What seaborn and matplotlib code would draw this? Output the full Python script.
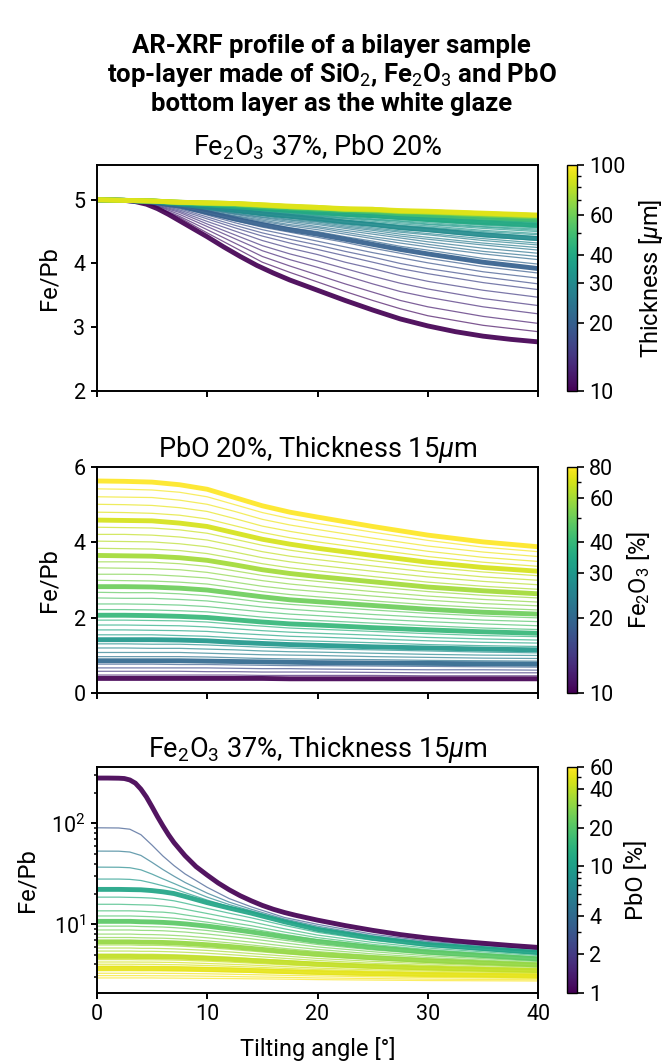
import matplotlib
matplotlib.use("Agg")
import matplotlib.pyplot as plt
from matplotlib.colors import LogNorm
from matplotlib.cm import ScalarMappable
import pandas as pd
import seaborn as sns

# ---------------------------------------------------------------------------
# Panel 1: Fe/Pb vs tilting angle for top-layer thickness 10..100 um
# The 10 um curve bends strongly and is sampled on its own, finer grid.
# ---------------------------------------------------------------------------
angle_t10 = [0, 2.5, 3.5, 4.5, 5.5, 6.5, 7.5, 8.5, 10, 11.5, 13, 14.5, 16, 17.5,
             20, 22.5, 25, 27.5, 30, 32.5, 35, 37.5, 40]
ratio_t10 = [5.00, 4.99, 4.97, 4.93, 4.86, 4.77, 4.67, 4.57, 4.42, 4.26, 4.11, 3.97,
             3.85, 3.74, 3.58, 3.42, 3.27, 3.13, 3.02, 2.93, 2.86, 2.81, 2.77]

angle_thk = [0, 2.5, 5, 7.5, 10, 12.5, 15, 17.5, 20, 22.5, 25, 27.5, 30, 35, 40]
thickness_um = list(range(11, 101))
thickness_bold = [10, 20, 30, 40, 50, 60, 70, 80, 90, 100]
ratio_thk = [
    [5.00, 4.99, 4.91, 4.72, 4.48, 4.25, 4.02, 3.86, 3.71, 3.56, 3.42, 3.29, 3.18, 3.03, 2.93],
    [5.00, 4.99, 4.92, 4.74, 4.53, 4.32, 4.11, 3.96, 3.82, 3.68, 3.55, 3.42, 3.32, 3.17, 3.06],
    [5.00, 4.99, 4.93, 4.77, 4.58, 4.39, 4.20, 4.06, 3.94, 3.81, 3.68, 3.56, 3.47, 3.32, 3.21],
    [5.00, 4.99, 4.93, 4.80, 4.62, 4.45, 4.28, 4.15, 4.04, 3.92, 3.80, 3.69, 3.60, 3.45, 3.34],
    [5.00, 4.99, 4.94, 4.82, 4.66, 4.51, 4.36, 4.24, 4.14, 4.02, 3.92, 3.81, 3.72, 3.58, 3.47],
    [5.00, 4.99, 4.95, 4.84, 4.70, 4.56, 4.43, 4.32, 4.22, 4.12, 4.02, 3.92, 3.84, 3.70, 3.59],
    [5.00, 4.99, 4.95, 4.86, 4.73, 4.60, 4.48, 4.38, 4.29, 4.19, 4.10, 4.00, 3.92, 3.79, 3.68],
    [5.00, 4.99, 4.95, 4.88, 4.76, 4.64, 4.53, 4.44, 4.35, 4.26, 4.17, 4.09, 4.01, 3.87, 3.77],
    [5.00, 4.99, 4.96, 4.89, 4.78, 4.67, 4.57, 4.49, 4.41, 4.33, 4.24, 4.16, 4.08, 3.95, 3.85],
    [5.00, 4.99, 4.96, 4.90, 4.80, 4.70, 4.61, 4.53, 4.46, 4.38, 4.30, 4.22, 4.15, 4.02, 3.92],
    [5.00, 4.99, 4.96, 4.91, 4.81, 4.72, 4.64, 4.56, 4.50, 4.42, 4.35, 4.27, 4.21, 4.08, 3.99],
    [5.00, 4.99, 4.96, 4.91, 4.82, 4.74, 4.66, 4.59, 4.53, 4.46, 4.39, 4.32, 4.26, 4.15, 4.06],
    [5.00, 4.99, 4.96, 4.91, 4.83, 4.75, 4.68, 4.61, 4.56, 4.49, 4.42, 4.36, 4.30, 4.19, 4.11],
    [5.00, 4.99, 4.97, 4.92, 4.84, 4.77, 4.70, 4.64, 4.58, 4.52, 4.46, 4.40, 4.34, 4.24, 4.16],
    [5.00, 4.99, 4.97, 4.92, 4.85, 4.78, 4.72, 4.66, 4.61, 4.55, 4.49, 4.43, 4.38, 4.29, 4.21],
    [5.00, 4.99, 4.97, 4.92, 4.86, 4.79, 4.73, 4.68, 4.63, 4.57, 4.52, 4.46, 4.41, 4.32, 4.25],
    [5.00, 4.99, 4.97, 4.93, 4.87, 4.81, 4.75, 4.69, 4.65, 4.59, 4.54, 4.49, 4.45, 4.36, 4.29],
    [5.00, 4.99, 4.97, 4.93, 4.87, 4.81, 4.76, 4.71, 4.66, 4.61, 4.56, 4.51, 4.47, 4.39, 4.32],
    [5.00, 4.99, 4.97, 4.93, 4.88, 4.83, 4.77, 4.72, 4.68, 4.63, 4.59, 4.54, 4.50, 4.42, 4.36],
    [5.00, 4.99, 4.97, 4.93, 4.88, 4.83, 4.78, 4.74, 4.70, 4.65, 4.61, 4.56, 4.53, 4.45, 4.39],
    [5.00, 4.99, 4.97, 4.94, 4.89, 4.84, 4.79, 4.75, 4.71, 4.67, 4.63, 4.59, 4.55, 4.48, 4.42],
    [5.00, 4.99, 4.97, 4.94, 4.89, 4.85, 4.80, 4.76, 4.72, 4.68, 4.64, 4.60, 4.57, 4.50, 4.45],
    [5.00, 4.99, 4.97, 4.94, 4.90, 4.86, 4.81, 4.77, 4.74, 4.70, 4.66, 4.62, 4.59, 4.52, 4.47],
    [5.00, 4.99, 4.97, 4.94, 4.90, 4.86, 4.82, 4.78, 4.75, 4.71, 4.68, 4.64, 4.61, 4.55, 4.50],
    [5.00, 4.99, 4.97, 4.94, 4.91, 4.87, 4.83, 4.79, 4.76, 4.72, 4.69, 4.66, 4.62, 4.57, 4.52],
    [5.00, 4.99, 4.97, 4.94, 4.91, 4.88, 4.84, 4.80, 4.77, 4.74, 4.70, 4.67, 4.64, 4.58, 4.54],
    [5.00, 4.99, 4.98, 4.95, 4.91, 4.88, 4.84, 4.81, 4.78, 4.75, 4.72, 4.69, 4.66, 4.60, 4.56],
    [5.00, 4.99, 4.98, 4.95, 4.92, 4.89, 4.85, 4.82, 4.79, 4.76, 4.73, 4.70, 4.67, 4.62, 4.57],
    [5.00, 4.99, 4.98, 4.95, 4.92, 4.89, 4.86, 4.82, 4.79, 4.76, 4.73, 4.71, 4.68, 4.63, 4.59],
    [5.00, 4.99, 4.98, 4.95, 4.92, 4.89, 4.86, 4.83, 4.80, 4.77, 4.75, 4.72, 4.69, 4.64, 4.60],
    [5.00, 4.99, 4.98, 4.95, 4.92, 4.90, 4.87, 4.84, 4.81, 4.78, 4.75, 4.73, 4.70, 4.65, 4.61],
    [5.00, 4.99, 4.98, 4.95, 4.93, 4.90, 4.87, 4.84, 4.81, 4.79, 4.76, 4.74, 4.71, 4.67, 4.62],
    [5.00, 4.99, 4.98, 4.95, 4.93, 4.90, 4.87, 4.85, 4.82, 4.79, 4.77, 4.74, 4.72, 4.68, 4.64],
    [5.00, 4.99, 4.98, 4.95, 4.93, 4.91, 4.88, 4.85, 4.82, 4.80, 4.77, 4.75, 4.73, 4.68, 4.65],
    [5.00, 4.99, 4.98, 4.95, 4.93, 4.91, 4.88, 4.85, 4.83, 4.80, 4.78, 4.76, 4.74, 4.69, 4.65],
    [5.00, 4.99, 4.98, 4.95, 4.93, 4.91, 4.88, 4.86, 4.83, 4.81, 4.79, 4.76, 4.74, 4.70, 4.66],
    [5.00, 4.99, 4.98, 4.95, 4.93, 4.91, 4.89, 4.86, 4.84, 4.81, 4.79, 4.77, 4.75, 4.71, 4.67],
    [5.00, 4.99, 4.98, 4.95, 4.94, 4.92, 4.89, 4.86, 4.84, 4.82, 4.80, 4.78, 4.75, 4.72, 4.68],
    [5.00, 4.99, 4.98, 4.95, 4.94, 4.92, 4.89, 4.87, 4.84, 4.82, 4.80, 4.78, 4.76, 4.72, 4.69],
    [5.00, 4.99, 4.98, 4.95, 4.94, 4.92, 4.89, 4.87, 4.85, 4.83, 4.81, 4.78, 4.76, 4.73, 4.69],
    [5.00, 4.99, 4.98, 4.95, 4.94, 4.92, 4.90, 4.87, 4.85, 4.83, 4.81, 4.79, 4.77, 4.73, 4.70],
    [5.00, 4.99, 4.98, 4.96, 4.94, 4.92, 4.90, 4.87, 4.85, 4.83, 4.81, 4.79, 4.77, 4.74, 4.70],
    [5.00, 4.99, 4.98, 4.96, 4.94, 4.92, 4.90, 4.88, 4.85, 4.83, 4.81, 4.80, 4.78, 4.74, 4.71],
    [5.00, 4.99, 4.98, 4.96, 4.94, 4.93, 4.90, 4.88, 4.86, 4.84, 4.82, 4.80, 4.78, 4.74, 4.71],
    [5.00, 4.99, 4.98, 4.96, 4.94, 4.93, 4.90, 4.88, 4.86, 4.84, 4.82, 4.80, 4.78, 4.75, 4.72],
    [5.00, 4.99, 4.98, 4.96, 4.94, 4.93, 4.90, 4.88, 4.86, 4.84, 4.82, 4.80, 4.79, 4.75, 4.72],
    [5.00, 4.99, 4.98, 4.96, 4.94, 4.93, 4.91, 4.88, 4.86, 4.84, 4.83, 4.81, 4.79, 4.76, 4.72],
    [5.00, 4.99, 4.98, 4.96, 4.94, 4.93, 4.91, 4.88, 4.86, 4.85, 4.83, 4.81, 4.79, 4.76, 4.73],
    [5.00, 4.99, 4.98, 4.96, 4.94, 4.93, 4.91, 4.89, 4.86, 4.85, 4.83, 4.81, 4.79, 4.76, 4.73],
    [5.00, 4.99, 4.98, 4.96, 4.94, 4.93, 4.91, 4.89, 4.87, 4.85, 4.83, 4.81, 4.80, 4.76, 4.73],
    [5.00, 4.99, 4.98, 4.96, 4.95, 4.93, 4.91, 4.89, 4.87, 4.85, 4.83, 4.81, 4.80, 4.77, 4.73],
    [5.00, 4.99, 4.98, 4.96, 4.95, 4.93, 4.91, 4.89, 4.87, 4.85, 4.83, 4.81, 4.80, 4.77, 4.74],
    [5.00, 4.99, 4.98, 4.96, 4.95, 4.93, 4.91, 4.89, 4.87, 4.85, 4.83, 4.81, 4.80, 4.77, 4.74],
    [5.00, 4.99, 4.98, 4.96, 4.95, 4.93, 4.91, 4.89, 4.87, 4.85, 4.83, 4.81, 4.80, 4.77, 4.74],
    [5.00, 4.99, 4.98, 4.96, 4.95, 4.93, 4.91, 4.89, 4.87, 4.85, 4.83, 4.81, 4.80, 4.77, 4.74],
    [5.00, 4.99, 4.98, 4.96, 4.95, 4.94, 4.91, 4.89, 4.87, 4.85, 4.84, 4.82, 4.81, 4.78, 4.74],
    [5.00, 4.99, 4.98, 4.96, 4.95, 4.94, 4.91, 4.89, 4.87, 4.85, 4.84, 4.82, 4.81, 4.78, 4.74],
    [5.00, 4.99, 4.98, 4.96, 4.95, 4.94, 4.91, 4.89, 4.87, 4.85, 4.84, 4.82, 4.81, 4.78, 4.74],
    [5.00, 4.99, 4.98, 4.96, 4.95, 4.94, 4.91, 4.89, 4.87, 4.85, 4.84, 4.82, 4.81, 4.78, 4.74],
    [5.00, 4.99, 4.98, 4.96, 4.95, 4.94, 4.91, 4.89, 4.87, 4.85, 4.84, 4.82, 4.81, 4.78, 4.75],
    [5.00, 4.99, 4.98, 4.96, 4.95, 4.94, 4.92, 4.89, 4.87, 4.85, 4.84, 4.82, 4.81, 4.78, 4.75],
    [5.00, 4.99, 4.98, 4.96, 4.95, 4.94, 4.92, 4.89, 4.87, 4.85, 4.84, 4.82, 4.81, 4.78, 4.75],
    [5.00, 4.99, 4.98, 4.96, 4.95, 4.94, 4.92, 4.89, 4.87, 4.85, 4.84, 4.82, 4.81, 4.78, 4.75],
    [5.00, 4.99, 4.98, 4.96, 4.95, 4.94, 4.92, 4.89, 4.87, 4.85, 4.84, 4.82, 4.81, 4.78, 4.75],
    [5.00, 4.99, 4.98, 4.96, 4.95, 4.94, 4.92, 4.89, 4.88, 4.85, 4.84, 4.82, 4.81, 4.78, 4.75],
    [5.00, 4.99, 4.98, 4.96, 4.95, 4.94, 4.92, 4.89, 4.88, 4.85, 4.84, 4.82, 4.81, 4.78, 4.75],
    [5.00, 4.99, 4.98, 4.96, 4.95, 4.94, 4.92, 4.89, 4.88, 4.85, 4.84, 4.82, 4.81, 4.78, 4.75],
    [5.00, 4.99, 4.98, 4.96, 4.95, 4.94, 4.92, 4.89, 4.88, 4.85, 4.84, 4.82, 4.81, 4.78, 4.75],
    [5.00, 4.99, 4.98, 4.96, 4.95, 4.94, 4.92, 4.89, 4.88, 4.85, 4.84, 4.82, 4.81, 4.78, 4.75],
    [5.00, 4.99, 4.98, 4.96, 4.95, 4.94, 4.92, 4.89, 4.88, 4.85, 4.85, 4.82, 4.81, 4.78, 4.75],
    [5.00, 4.99, 4.98, 4.96, 4.95, 4.94, 4.92, 4.89, 4.88, 4.85, 4.85, 4.82, 4.82, 4.78, 4.75],
    [5.00, 4.99, 4.98, 4.96, 4.95, 4.94, 4.92, 4.89, 4.88, 4.85, 4.85, 4.82, 4.82, 4.79, 4.75],
    [5.00, 4.99, 4.98, 4.96, 4.95, 4.94, 4.92, 4.89, 4.88, 4.85, 4.85, 4.82, 4.82, 4.79, 4.75],
    [5.00, 4.99, 4.98, 4.96, 4.95, 4.94, 4.92, 4.90, 4.88, 4.86, 4.85, 4.83, 4.82, 4.79, 4.76],
    [5.00, 4.99, 4.98, 4.96, 4.95, 4.94, 4.92, 4.90, 4.88, 4.86, 4.85, 4.83, 4.82, 4.79, 4.76],
    [5.00, 4.99, 4.98, 4.96, 4.95, 4.94, 4.92, 4.90, 4.88, 4.86, 4.85, 4.83, 4.82, 4.79, 4.76],
    [5.00, 4.99, 4.98, 4.96, 4.95, 4.94, 4.92, 4.90, 4.88, 4.86, 4.85, 4.83, 4.82, 4.79, 4.76],
    [5.00, 4.99, 4.98, 4.96, 4.95, 4.94, 4.92, 4.90, 4.88, 4.86, 4.85, 4.83, 4.82, 4.79, 4.76],
    [5.00, 4.99, 4.98, 4.96, 4.95, 4.94, 4.92, 4.90, 4.88, 4.86, 4.85, 4.83, 4.82, 4.79, 4.76],
    [5.00, 4.99, 4.98, 4.96, 4.95, 4.94, 4.92, 4.90, 4.88, 4.86, 4.85, 4.83, 4.82, 4.79, 4.76],
    [5.00, 4.99, 4.98, 4.96, 4.95, 4.94, 4.92, 4.90, 4.88, 4.86, 4.85, 4.83, 4.82, 4.79, 4.76],
    [5.00, 4.99, 4.98, 4.96, 4.95, 4.94, 4.92, 4.90, 4.88, 4.86, 4.85, 4.83, 4.82, 4.79, 4.76],
    [5.00, 4.99, 4.98, 4.96, 4.95, 4.94, 4.92, 4.90, 4.88, 4.86, 4.85, 4.83, 4.82, 4.79, 4.76],
    [5.00, 4.99, 4.98, 4.96, 4.95, 4.94, 4.92, 4.90, 4.88, 4.86, 4.85, 4.83, 4.82, 4.79, 4.76],
    [5.00, 4.99, 4.98, 4.96, 4.95, 4.94, 4.92, 4.90, 4.88, 4.86, 4.85, 4.83, 4.82, 4.79, 4.76],
    [5.00, 4.99, 4.98, 4.96, 4.95, 4.94, 4.92, 4.90, 4.88, 4.86, 4.85, 4.83, 4.82, 4.79, 4.76],
    [5.00, 4.99, 4.98, 4.96, 4.95, 4.94, 4.92, 4.90, 4.88, 4.86, 4.85, 4.83, 4.82, 4.79, 4.76],
    [5.00, 4.99, 4.98, 4.96, 4.95, 4.94, 4.92, 4.90, 4.88, 4.86, 4.85, 4.83, 4.82, 4.79, 4.76],
    [5.00, 4.99, 4.98, 4.96, 4.95, 4.94, 4.92, 4.90, 4.88, 4.86, 4.85, 4.83, 4.82, 4.79, 4.76],
]

# ---------------------------------------------------------------------------
# Panel 2: Fe/Pb for Fe2O3 content 10..80 %
# ---------------------------------------------------------------------------
angle_fe = [0, 2.5, 5, 7.5, 10, 12.5, 15, 17.5, 20, 25, 30, 35, 40]
fe2o3_pct = list(range(10, 81, 2))
fe2o3_bold = [10, 20, 30, 40, 50, 60, 70, 80]
ratio_fe = [
    [0.38, 0.38, 0.38, 0.38, 0.38, 0.38, 0.38, 0.37, 0.37, 0.37, 0.37, 0.37, 0.37],
    [0.47, 0.47, 0.47, 0.47, 0.47, 0.47, 0.46, 0.46, 0.46, 0.46, 0.45, 0.45, 0.45],
    [0.57, 0.57, 0.57, 0.57, 0.56, 0.56, 0.55, 0.55, 0.55, 0.54, 0.53, 0.53, 0.53],
    [0.66, 0.66, 0.66, 0.66, 0.66, 0.65, 0.64, 0.64, 0.63, 0.62, 0.61, 0.61, 0.60],
    [0.76, 0.76, 0.76, 0.75, 0.75, 0.74, 0.73, 0.72, 0.72, 0.71, 0.70, 0.69, 0.68],
    [0.85, 0.85, 0.85, 0.85, 0.84, 0.83, 0.82, 0.81, 0.80, 0.79, 0.78, 0.77, 0.76],
    [0.96, 0.96, 0.96, 0.96, 0.95, 0.93, 0.91, 0.90, 0.89, 0.88, 0.86, 0.85, 0.84],
    [1.07, 1.07, 1.07, 1.07, 1.05, 1.03, 1.01, 1.00, 0.99, 0.96, 0.94, 0.92, 0.91],
    [1.19, 1.19, 1.18, 1.18, 1.16, 1.14, 1.11, 1.09, 1.08, 1.05, 1.02, 1.00, 0.99],
    [1.30, 1.30, 1.29, 1.29, 1.27, 1.24, 1.21, 1.19, 1.17, 1.14, 1.11, 1.08, 1.06],
    [1.41, 1.41, 1.41, 1.40, 1.38, 1.34, 1.31, 1.28, 1.26, 1.22, 1.19, 1.16, 1.14],
    [1.54, 1.54, 1.54, 1.52, 1.50, 1.46, 1.42, 1.39, 1.37, 1.33, 1.28, 1.25, 1.23],
    [1.67, 1.67, 1.66, 1.65, 1.63, 1.58, 1.54, 1.50, 1.48, 1.43, 1.38, 1.34, 1.32],
    [1.80, 1.80, 1.79, 1.78, 1.75, 1.70, 1.65, 1.61, 1.58, 1.53, 1.47, 1.43, 1.40],
    [1.93, 1.93, 1.92, 1.91, 1.88, 1.82, 1.77, 1.72, 1.69, 1.63, 1.57, 1.52, 1.49],
    [2.06, 2.06, 2.05, 2.03, 2.00, 1.94, 1.88, 1.83, 1.80, 1.73, 1.67, 1.62, 1.58],
    [2.21, 2.21, 2.20, 2.18, 2.15, 2.08, 2.01, 1.96, 1.92, 1.85, 1.78, 1.72, 1.68],
    [2.36, 2.36, 2.35, 2.33, 2.29, 2.22, 2.15, 2.09, 2.05, 1.96, 1.89, 1.83, 1.78],
    [2.52, 2.51, 2.51, 2.48, 2.44, 2.36, 2.28, 2.22, 2.17, 2.08, 2.00, 1.93, 1.89],
    [2.67, 2.66, 2.66, 2.63, 2.58, 2.50, 2.41, 2.35, 2.30, 2.20, 2.11, 2.04, 1.99],
    [2.82, 2.82, 2.81, 2.78, 2.73, 2.64, 2.55, 2.47, 2.42, 2.32, 2.22, 2.14, 2.09],
    [2.99, 2.98, 2.97, 2.94, 2.89, 2.79, 2.69, 2.61, 2.55, 2.44, 2.34, 2.26, 2.20],
    [3.15, 3.15, 3.14, 3.10, 3.05, 2.94, 2.83, 2.75, 2.69, 2.57, 2.46, 2.37, 2.31],
    [3.32, 3.31, 3.30, 3.27, 3.20, 3.09, 2.98, 2.89, 2.82, 2.69, 2.57, 2.48, 2.41],
    [3.48, 3.48, 3.47, 3.43, 3.36, 3.24, 3.12, 3.03, 2.96, 2.82, 2.69, 2.59, 2.52],
    [3.65, 3.64, 3.63, 3.59, 3.52, 3.40, 3.27, 3.17, 3.09, 2.95, 2.81, 2.71, 2.63],
    [3.84, 3.83, 3.82, 3.78, 3.70, 3.57, 3.43, 3.32, 3.24, 3.09, 2.94, 2.83, 2.75],
    [4.03, 4.02, 4.01, 3.96, 3.88, 3.74, 3.59, 3.48, 3.39, 3.23, 3.08, 2.96, 2.87],
    [4.21, 4.21, 4.19, 4.14, 4.06, 3.91, 3.75, 3.63, 3.54, 3.37, 3.21, 3.08, 2.99],
    [4.40, 4.39, 4.38, 4.33, 4.24, 4.08, 3.92, 3.79, 3.69, 3.51, 3.34, 3.21, 3.11],
    [4.59, 4.58, 4.57, 4.51, 4.42, 4.25, 4.08, 3.95, 3.84, 3.65, 3.47, 3.33, 3.23],
    [4.80, 4.79, 4.77, 4.72, 4.62, 4.44, 4.26, 4.12, 4.01, 3.81, 3.62, 3.47, 3.36],
    [5.01, 5.00, 4.98, 4.92, 4.82, 4.63, 4.43, 4.29, 4.17, 3.96, 3.76, 3.60, 3.49],
    [5.21, 5.20, 5.19, 5.12, 5.01, 4.82, 4.61, 4.46, 4.34, 4.11, 3.90, 3.74, 3.62],
    [5.42, 5.41, 5.39, 5.33, 5.21, 5.00, 4.79, 4.63, 4.50, 4.27, 4.05, 3.87, 3.75],
    [5.63, 5.62, 5.60, 5.53, 5.41, 5.19, 4.97, 4.80, 4.67, 4.42, 4.19, 4.01, 3.88],
]

# ---------------------------------------------------------------------------
# Panel 3: Fe/Pb for PbO content 1..59 % (log axis)
# The 1 % curve has a sharp knee and is sampled on its own, finer grid.
# ---------------------------------------------------------------------------
angle_pbo1 = [0, 1, 2, 2.5, 3, 3.5, 4, 4.5, 5, 5.5, 6, 6.5, 7, 8, 9, 10, 11, 12,
              13, 14, 15, 16, 17, 18, 20, 22.5, 25, 27.5, 30, 32.5, 35, 37.5, 40]
ratio_pbo1 = [282, 282, 281, 279, 270, 251, 219, 183, 147, 117, 94.4, 77.3, 64.6,
              47.9, 37.3, 30.8, 25.7, 22.0, 19.2, 17.1, 15.4, 14.1, 13.1, 12.3,
              11.0, 9.72, 8.71, 7.91, 7.31, 6.85, 6.49, 6.17, 5.90]

angle_pb = [0, 2, 3, 4, 5, 6, 7, 8, 10, 12, 14, 17, 20, 25, 30, 40]
pbo_pct = list(range(3, 60, 2))
pbo_bold = [1, 11, 21, 31, 41, 51]
ratio_pb = [
    [90.6, 90.2, 87.7, 77.4, 61.1, 47.5, 38.2, 31.6, 23.3, 18.0, 14.9, 11.7, 10.0, 7.98, 6.78, 5.60],
    [53.2, 53.1, 52.1, 48.2, 41.2, 34.9, 30.0, 26.0, 20.4, 16.6, 14.1, 11.3, 9.59, 7.71, 6.59, 5.46],
    [36.9, 36.8, 36.4, 34.7, 31.5, 28.2, 25.4, 22.8, 18.6, 15.7, 13.6, 11.0, 9.29, 7.53, 6.47, 5.36],
    [28.1, 28.1, 27.9, 27.2, 25.7, 24.1, 22.5, 20.6, 17.4, 15.0, 13.2, 10.8, 9.08, 7.41, 6.37, 5.30],
    [22.2, 22.2, 22.1, 22.0, 21.6, 21.0, 20.2, 18.9, 16.4, 14.5, 12.9, 10.6, 8.90, 7.30, 6.30, 5.24],
    [18.6, 18.6, 18.5, 18.4, 18.2, 17.7, 17.1, 16.2, 14.4, 12.9, 11.6, 9.75, 8.32, 6.93, 6.04, 5.06],
    [15.8, 15.8, 15.7, 15.6, 15.5, 15.2, 14.8, 14.1, 12.8, 11.6, 10.6, 9.02, 7.82, 6.61, 5.81, 4.90],
    [13.6, 13.6, 13.6, 13.5, 13.3, 13.2, 12.9, 12.4, 11.5, 10.5, 9.68, 8.39, 7.38, 6.32, 5.61, 4.75],
    [12.1, 12.1, 12.1, 12.0, 11.9, 11.7, 11.5, 11.2, 10.5, 9.75, 9.04, 7.94, 7.06, 6.12, 5.46, 4.65],
    [10.7, 10.7, 10.7, 10.6, 10.55, 10.45, 10.3, 10.1, 9.60, 9.00, 8.40, 7.50, 6.75, 5.90, 5.30, 4.53],
    [9.59, 9.59, 9.59, 9.51, 9.46, 9.40, 9.27, 9.10, 8.69, 8.20, 7.69, 6.95, 6.31, 5.58, 5.06, 4.39],
    [8.79, 8.79, 8.79, 8.71, 8.69, 8.63, 8.51, 8.38, 8.02, 7.60, 7.18, 6.53, 5.97, 5.35, 4.88, 4.28],
    [8.00, 8.00, 8.00, 7.93, 7.91, 7.85, 7.76, 7.66, 7.36, 7.01, 6.65, 6.10, 5.64, 5.09, 4.69, 4.16],
    [7.40, 7.40, 7.40, 7.35, 7.31, 7.28, 7.21, 7.11, 6.85, 6.56, 6.24, 5.77, 5.37, 4.90, 4.54, 4.06],
    [6.70, 6.70, 6.70, 6.65, 6.64, 6.61, 6.55, 6.47, 6.27, 6.03, 5.77, 5.38, 5.05, 4.66, 4.36, 3.95],
    [6.24, 6.24, 6.24, 6.19, 6.19, 6.17, 6.11, 6.04, 5.86, 5.66, 5.43, 5.11, 4.81, 4.47, 4.20, 3.85],
    [5.82, 5.82, 5.82, 5.78, 5.78, 5.75, 5.71, 5.65, 5.51, 5.33, 5.13, 4.85, 4.59, 4.29, 4.06, 3.74],
    [5.43, 5.43, 5.43, 5.40, 5.40, 5.37, 5.33, 5.28, 5.16, 5.01, 4.84, 4.60, 4.38, 4.11, 3.92, 3.64],
    [5.07, 5.07, 5.07, 5.05, 5.05, 5.02, 4.99, 4.95, 4.84, 4.72, 4.58, 4.38, 4.18, 3.95, 3.78, 3.54],
    [4.80, 4.80, 4.80, 4.78, 4.78, 4.75, 4.73, 4.70, 4.60, 4.50, 4.38, 4.20, 4.03, 3.83, 3.68, 3.47],
    [4.47, 4.47, 4.47, 4.45, 4.45, 4.44, 4.42, 4.39, 4.31, 4.22, 4.12, 3.97, 3.83, 3.66, 3.54, 3.36],
    [4.23, 4.23, 4.23, 4.22, 4.22, 4.20, 4.19, 4.16, 4.09, 4.02, 3.94, 3.81, 3.68, 3.54, 3.44, 3.27],
    [4.02, 4.02, 4.02, 4.01, 4.01, 3.99, 3.98, 3.96, 3.90, 3.84, 3.77, 3.66, 3.56, 3.43, 3.34, 3.20],
    [3.84, 3.84, 3.84, 3.83, 3.83, 3.82, 3.81, 3.78, 3.74, 3.69, 3.63, 3.53, 3.44, 3.33, 3.26, 3.13],
    [3.66, 3.66, 3.66, 3.65, 3.65, 3.64, 3.63, 3.61, 3.57, 3.53, 3.48, 3.40, 3.33, 3.24, 3.17, 3.07],
    [3.47, 3.47, 3.47, 3.46, 3.46, 3.45, 3.44, 3.44, 3.40, 3.37, 3.33, 3.27, 3.21, 3.13, 3.08, 3.00],
    [3.27, 3.27, 3.27, 3.27, 3.27, 3.26, 3.26, 3.25, 3.23, 3.20, 3.17, 3.12, 3.08, 3.02, 2.97, 2.91],
    [3.10, 3.10, 3.10, 3.10, 3.09, 3.09, 3.08, 3.08, 3.06, 3.04, 3.01, 2.98, 2.94, 2.90, 2.86, 2.82],
    [2.94, 2.94, 2.94, 2.94, 2.94, 2.93, 2.93, 2.92, 2.91, 2.90, 2.88, 2.86, 2.83, 2.80, 2.77, 2.74],
]

# ---------------------------------------------------------------------------
# Style
# ---------------------------------------------------------------------------
sns.set_theme(style="ticks")
plt.rcParams.update({
    "font.family": ["Roboto", "DejaVu Sans"],
    "font.size": 15.5,
    "axes.titlesize": 19.5,
    "axes.labelsize": 17,
    "xtick.labelsize": 15.5,
    "ytick.labelsize": 15.5,
    "text.color": "black",
    "axes.labelcolor": "black",
    "axes.edgecolor": "black",
    "axes.linewidth": 1.4,
    "xtick.color": "black",
    "ytick.color": "black",
    "xtick.major.width": 1.4,
    "ytick.major.width": 1.4,
    "xtick.major.size": 4.5,
    "ytick.major.size": 4.5,
    "ytick.minor.size": 2.5,
    "ytick.minor.width": 1.1,
    "mathtext.fontset": "custom",
    "mathtext.rm": "Roboto",
    "mathtext.it": "Roboto:italic",
    "mathtext.bf": "Roboto:bold",
})


def to_long(angles, params, rows, key):
    records = [(p, a, v) for p, row in zip(params, rows) for a, v in zip(angles, row)]
    return pd.DataFrame(records, columns=[key, "angle", "ratio"])


def draw_family(ax, frame, key, norm, bold):
    thin = frame[~frame[key].isin(bold)]
    thick = frame[frame[key].isin(bold)]
    common = dict(x="angle", y="ratio", hue=key, hue_norm=norm, palette="viridis",
                  units=key, estimator=None, sort=False, legend=False, ax=ax)
    sns.lineplot(data=thin, lw=0.9, alpha=0.7, **common)
    sns.lineplot(data=thick, lw=3.5, alpha=0.92, **common)


def add_colorbar(fig, cax, norm, ticks, label):
    sm = ScalarMappable(norm=norm, cmap="viridis")
    cb = fig.colorbar(sm, cax=cax)
    cb.set_ticks(ticks, labels=[str(t) for t in ticks])
    cb.set_label(label, fontsize=17, labelpad=8)
    cb.outline.set_linewidth(1.0)
    cb.ax.tick_params(which="major", length=5, width=1.2, labelsize=15.5)
    cb.ax.tick_params(which="minor", length=3, width=1.0)
    return cb


fig = plt.figure(figsize=(6.63, 10.61), dpi=100)
left, width = 0.1459, 0.666
bottoms = [0.6315, 0.3471, 0.0644]
height = 0.2127
axes = [fig.add_axes([left, b, width, height]) for b in bottoms]
caxes = [fig.add_axes([0.855, b, 0.016, height]) for b in bottoms]

norm_thk = LogNorm(vmin=10, vmax=100)
norm_fe = LogNorm(vmin=10, vmax=80)
norm_pb = LogNorm(vmin=1, vmax=60)

thk_frame = pd.concat([to_long(angle_t10, [10], [ratio_t10], "thickness"),
                       to_long(angle_thk, thickness_um, ratio_thk, "thickness")],
                      ignore_index=True)
draw_family(axes[0], thk_frame, "thickness", norm_thk, thickness_bold)
draw_family(axes[1], to_long(angle_fe, fe2o3_pct, ratio_fe, "fe2o3"),
            "fe2o3", norm_fe, fe2o3_bold)
axes[2].set_yscale("log")
pbo_frame = pd.concat([to_long(angle_pbo1, [1], [ratio_pbo1], "pbo"),
                       to_long(angle_pb, pbo_pct, ratio_pb, "pbo")], ignore_index=True)
draw_family(axes[2], pbo_frame, "pbo", norm_pb, pbo_bold)

axes[0].set_ylim(2, 5.54)
axes[0].set_yticks([2, 3, 4, 5])
axes[1].set_ylim(0, 6)
axes[1].set_yticks([0, 2, 4, 6])
axes[2].set_ylim(2.1, 363)

titles = [r"Fe$_2$O$_3$ 37%, PbO 20%",
          r"PbO 20%, Thickness 15$\mu$m",
          r"Fe$_2$O$_3$ 37%, Thickness 15$\mu$m"]
for i, ax in enumerate(axes):
    ax.set_xlim(0, 40)
    ax.set_xticks([0, 10, 20, 30, 40])
    ax.set_title(titles[i], pad=7)
    ax.set_ylabel("Fe/Pb", labelpad=9)
    if i < 2:
        ax.set_xlabel("")
        ax.tick_params(axis="x", labelbottom=False)
    else:
        ax.set_xlabel("Tilting angle [°]", labelpad=9)

add_colorbar(fig, caxes[0], norm_thk, [10, 20, 30, 40, 60, 100], r"Thickness [$\mu$m]")
add_colorbar(fig, caxes[1], norm_fe, [10, 20, 30, 40, 60, 80], r"Fe$_2$O$_3$ [%]")
add_colorbar(fig, caxes[2], norm_pb, [1, 2, 4, 10, 20, 40, 60], "PbO [%]")

fig.suptitle("AR-XRF profile of a bilayer sample\n"
             r"top-layer made of SiO$_2$, Fe$_2$O$_3$ and PbO" "\n"
             "bottom layer as the white glaze",
             x=0.5, y=0.968, va="top", fontsize=18.5, fontweight="bold",
             linespacing=1.15)

fig.savefig("out.png", dpi=100)
